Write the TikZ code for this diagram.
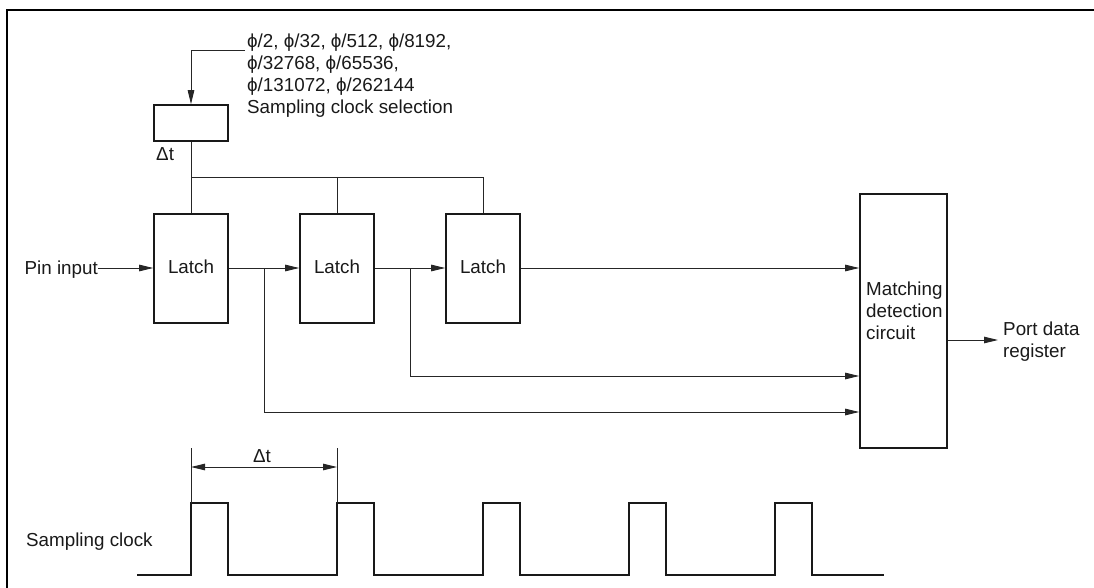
\documentclass[tikz,border=0pt]{standalone}
\usepackage{fontspec}
\setmainfont{Liberation Sans}
\usetikzlibrary{arrows.meta}
\begin{document}
\begin{tikzpicture}[x=1pt,y=-1pt,
  font=\fontsize{18.8}{22}\selectfont,
  wire/.style={line width=0.9pt,draw=black!85},
  arr/.style={wire,-{Triangle[length=14pt,width=6.5pt]}},
  dimarr/.style={wire,{Triangle[length=14pt,width=6.5pt]}-{Triangle[length=14pt,width=6.5pt]}},
  blk/.style={draw=black!90,line width=1.6pt,fill=white,inner sep=0pt,minimum width=74pt,minimum height=109pt},
  txt/.style={inner sep=0pt,anchor=base west,text=black!90},
  ctxt/.style={inner sep=0pt,anchor=base,text=black!90},
  clk/.style={line width=1.5pt,draw=black!90,line join=miter}
]
\useasboundingbox (0,0) rectangle (1094,588);
% frame
\draw[line width=2.5pt] (1094,10) -- (7,10) -- (7,588);

% sampling clock selection
\node[draw=black!90,line width=1.6pt,inner sep=0pt,minimum width=74pt,minimum height=36pt] (sel) at (191,123) {};
\node[txt] (p1) at (247,48) {ϕ/2, ϕ/32, ϕ/512, ϕ/8192,};
\node[txt] (p2) at (247,70) {ϕ/32768, ϕ/65536,};
\node[txt] (p3) at (247,92) {ϕ/131072, ϕ/262144};
\node[txt] (p4) at (247,114) {Sampling clock selection};
\coordinate (selin) at (245,50);
\draw[arr] (selin) -- (191,50) -- (sel.north);
\node[txt] (dt1) at (156,161) {Δt};

% latches
\node[blk] (l1) at (191,268.5) {};
\node[blk] (l2) at (337,268.5) {};
\node[blk] (l3) at (483,268.5) {};
\node[ctxt] (l1t) at (191,273) {Latch};
\node[ctxt] (l2t) at (337,273) {Latch};
\node[ctxt] (l3t) at (483,273) {Latch};

% clock bus
\coordinate (bus1) at (191,177);
\coordinate (bus3) at (483,177);
\draw[wire] (sel.south) -- (l1.north);
\draw[wire] (bus1) -- (bus3) -- (l3.north);
\draw[wire] (l2.north |- bus1) -- (l2.north);

% pin input
\node[inner sep=0pt,anchor=base east,text=black!90] (pin) at (98,274) {Pin input};
\coordinate (pinend) at (98,268);
\draw[arr] (pinend) -- (l1.west |- pinend);

% matching detection
\node[draw=black!90,line width=1.6pt,inner sep=0pt,minimum width=87pt,minimum height=254pt] (mat) at (903.5,321) {};
\node[txt] (m1) at (866,295) {Matching};
\node[txt] (m2) at (866,317) {detection};
\node[txt] (m3) at (866,339) {circuit};

\draw[arr] (l1.east |- pinend) -- (l2.west |- pinend);
\draw[arr] (l2.east |- pinend) -- (l3.west |- pinend);
\draw[arr] (l3.east |- pinend) -- (mat.west |- pinend);
\coordinate (b2) at (410,268);
\coordinate (b1) at (264,268);
\draw[arr] (b2) -- (410,376) -- (mat.west |- 0,376);
\draw[arr] (b1) -- (264,412) -- (mat.west |- 0,412);

% output
\coordinate (outend) at (998,340);
\draw[arr] (mat.east |- outend) -- (outend);
\node[txt] (o1) at (1003,335) {Port data};
\node[txt] (o2) at (1003,357) {register};

% sampling clock waveform
\node[txt] (sc) at (26,546) {Sampling clock};
\draw[clk] (137,575) -- (191,575) -- (191,503) -- (228,503) -- (228,575)
  -- (337,575) -- (337,503) -- (374,503) -- (374,575)
  -- (483,575) -- (483,503) -- (520,503) -- (520,575)
  -- (629,575) -- (629,503) -- (666,503) -- (666,575)
  -- (775,575) -- (775,503) -- (812,503) -- (812,575) -- (884,575);
\coordinate (e1t) at (191,448);
\coordinate (e2t) at (337,448);
\draw[wire] (e1t) -- (191,503);
\draw[wire] (e2t) -- (337,503);
\draw[dimarr] (191,467) -- (337,467);
\node[ctxt] (dt2) at (262,462) {Δt};
\end{tikzpicture}
\end{document}
